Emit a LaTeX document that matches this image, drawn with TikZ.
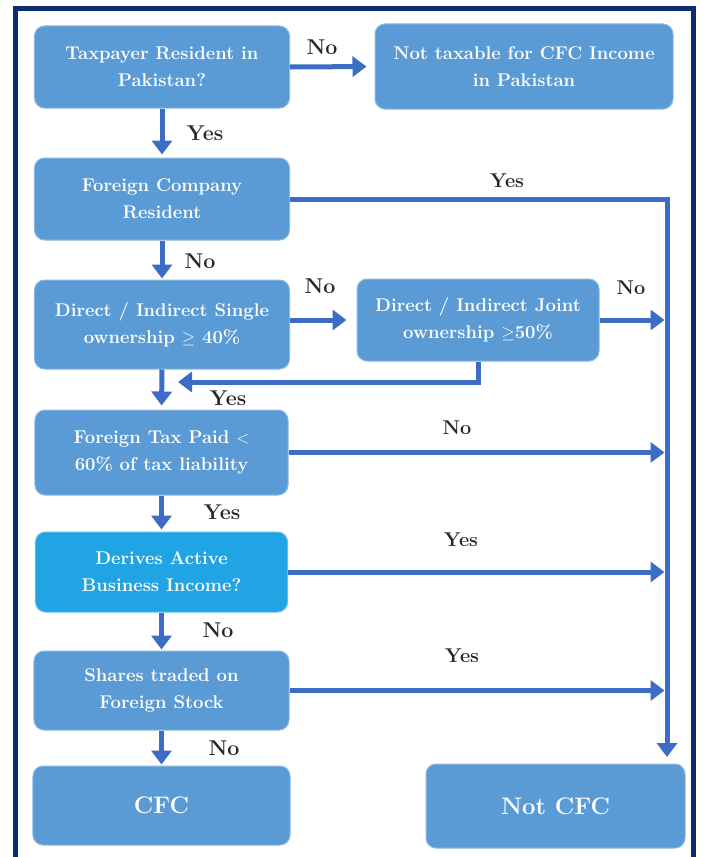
\documentclass[tikz,border=0pt]{standalone}
\usepackage{fontspec}
\usetikzlibrary{arrows.meta,calc}
\definecolor{boxblue}{RGB}{91,155,213}
\definecolor{boxcyan}{RGB}{32,164,228}
\definecolor{arrblue}{RGB}{60,108,198}
\definecolor{framenavy}{RGB}{10,45,112}
\definecolor{lblgray}{RGB}{40,40,40}
\begin{document}
\begin{tikzpicture}[x=1bp,y=-1bp,
  decision/.style={rectangle,rounded corners=10bp,fill=boxblue,draw=boxblue!70!white,line width=1bp,
    text=white,font=\fontsize{18.5}{27}\selectfont\bfseries,align=center,inner sep=2bp},
  bigbox/.style={decision,font=\fontsize{24}{30}\selectfont\bfseries},
  arr/.style={draw=arrblue,line width=5bp,-{Triangle[width=20bp,length=14bp]}},
  plain/.style={draw=arrblue,line width=5bp},
  lbl/.style={text=lblgray,font=\fontsize{21.5}{24}\selectfont\bfseries,inner sep=0pt},
  lblr/.style={text=lblgray,font=\fontsize{20}{24}\selectfont\bfseries,inner sep=0pt}]
\useasboundingbox (0,0) rectangle (703,857);
\fill[white] (0,0) rectangle (703,857);
\draw[framenavy,line width=5bp] (15,870) -- (15,8.5) -- (693,8.5) -- (693,870);

\node[decision,minimum width=255bp,minimum height=82bp] (n1) at (162,67) {Taxpayer Resident in\\Pakistan?};
\node[decision,minimum width=298bp,minimum height=85bp] (n2) at (524,66.5) {Not taxable for CFC Income\\in Pakistan};
\node[decision,minimum width=255bp,minimum height=82bp] (n3) at (162,199) {Foreign Company\\Resident};
\node[decision,minimum width=255bp,minimum height=89bp] (n4) at (162,324.5) {Direct / Indirect Single\\ownership $\mathbf{\geq}$ 40\%};
\node[decision,minimum width=242bp,minimum height=82bp] (n5) at (478,320) {Direct / Indirect Joint\\ownership $\mathbf{\geq}$50\%};
\node[decision,minimum width=253bp,minimum height=85bp] (n6) at (161.5,452.5) {Foreign Tax Paid $<$\\60\% of tax liability};
\node[decision,fill=boxcyan,draw=boxcyan!70!white,minimum width=252bp,minimum height=80bp] (n7) at (161.5,572) {Derives Active\\Business Income?};
\node[decision,minimum width=255bp,minimum height=79bp] (n8) at (161.5,690.5) {Shares traded on\\Foreign Stock};
\node[bigbox,minimum width=257bp,minimum height=79bp] (n9) at (161.5,805.5) {CFC};
\node[bigbox,minimum width=259bp,minimum height=84bp] (n10) at (555.5,806) {Not CFC};

\coordinate (R) at (667,0);
\coordinate (rb) at (667,757);
\coordinate (m) at (178,382);

% left column
\draw[arr,shorten >=8bp] (n1.east) -- (n2.west);
\draw[arr,shorten >=3bp] (n1.south) -- (n3.north);
\draw[arr,shorten >=1bp] (n3.south) -- (n4.north);
\draw[arr,shorten >=4bp] (n4.south) -- (n6.north);
\draw[arr,shorten >=2bp] (n6.south) -- (n7.north);
\draw[arr,shorten >=1bp] (n7.south) -- (n8.north);
\draw[arr,shorten >=1bp] (n8.south) -- (n9.north);

% right side
\draw[arr] (n3.east) -| (rb);
\draw[arr,shorten >=10bp] (n4.east |- n5.west) -- (n5.west);
\draw[arr,shorten >=2.5bp] (n5.east) -- (n5.east -| R);
\draw[plain] (n5.south) |- ($(m)+(14bp,0)$);
\draw[arr] (n5.south |- m) -- (m);
\draw[arr,shorten >=2.5bp] (n6.east) -- (n6.east -| R);
\draw[arr,shorten >=2.5bp] (n7.east) -- (n7.east -| R);
\draw[arr,shorten >=2.5bp] (n8.east) -- (n8.east -| R);

% labels
\node[lbl] (l1) at (322,47) {No};
\node[lbl] (l2) at (205,133) {Yes};
\node[lblr] (l3) at (507,181) {Yes};
\node[lbl] (l4) at (200,261) {No};
\node[lbl] (l5) at (320,286) {No};
\node[lblr] (l6) at (631,288) {No};
\node[lbl] (l7) at (228,398) {Yes};
\node[lblr] (l8) at (457,428) {No};
\node[lbl] (l9) at (222,512) {Yes};
\node[lblr] (l10) at (461,540) {Yes};
\node[lbl] (l11) at (218,630) {No};
\node[lblr] (l12) at (462,656) {Yes};
\node[lbl] (l13) at (224,748) {No};
\end{tikzpicture}
\end{document}
